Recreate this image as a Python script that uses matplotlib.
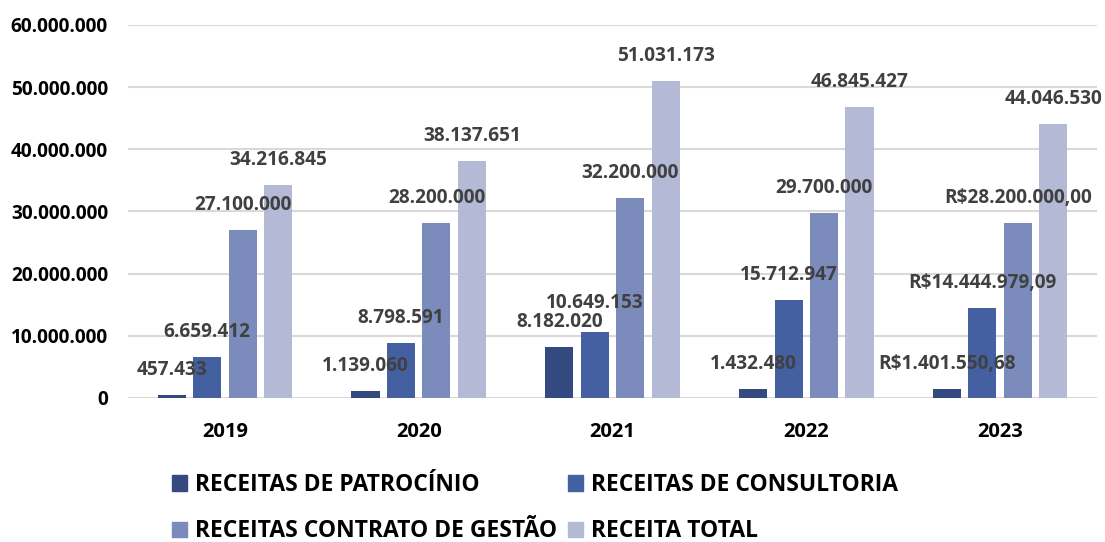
import numpy as np
import matplotlib
matplotlib.use('Agg')
import matplotlib.pyplot as plt
from matplotlib.patches import Patch

years = ['2019', '2020', '2021', '2022', '2023']
series_names = ['RECEITAS DE PATROCÍNIO', 'RECEITAS DE CONSULTORIA',
                'RECEITAS CONTRATO DE GESTÃO', 'RECEITA TOTAL']
patrocinio = [457433, 1139060, 8182020, 1432480, 1401550.68]
consultoria = [6659412, 8798591, 10649153, 15712947, 14444979.09]
contrato = [27100000, 28200000, 32200000, 29700000, 28200000]
total = [34216845, 38137651, 51031173, 46845427, 44046530]

labels = [
    ['457.433', '1.139.060', '8.182.020', '1.432.480', 'R$1.401.550,68'],
    ['6.659.412', '8.798.591', '10.649.153', '15.712.947', 'R$14.444.979,09'],
    ['27.100.000', '28.200.000', '32.200.000', '29.700.000', 'R$28.200.000,00'],
    ['34.216.845', '38.137.651', '51.031.173', '46.845.427', '44.046.530'],
]
colors = ['#34497f', '#4560a0', '#7b8bbb', '#b4bad6']

plt.rcParams['font.family'] = ['Open Sans', 'DejaVu Sans']

fig = plt.figure(figsize=(11.05, 5.42), dpi=100)
ax = fig.add_axes([0.1158, 0.2657, 0.8770, 0.6882])

x = np.arange(len(years))
step = 0.183
width = 0.145
data = [patrocinio, consultoria, contrato, total]
for i, vals in enumerate(data):
    pos = x + (i - 1.5) * step
    ax.bar(pos, vals, width, color=colors[i], zorder=3)
    for j, v in enumerate(vals):
        dy = 29 if (i, j) == (1, 2) else 25  # keep the two 2021 labels apart
        ax.annotate(labels[i][j], xy=(pos[j], v), xytext=(0, dy),
                    textcoords='offset pixels', ha='center', va='center',
                    fontsize=13.7, fontweight='bold', color='#404040', zorder=4)

ax.set_xlim(-0.5, 4.5)
ax.set_ylim(0, 60000000)
yt = np.arange(0, 60000001, 10000000)
ax.set_yticks(yt)
ax.set_yticklabels(['0' if t == 0 else f'{int(t):,}'.replace(',', '.') for t in yt])
ax.set_xticks(x)
ax.set_xticklabels(years)
ax.tick_params(axis='both', length=0, labelcolor='black')
ax.tick_params(axis='x', pad=17, labelsize=14.5)
ax.tick_params(axis='y', pad=14.4, labelsize=13.7)
for lab in ax.get_xticklabels() + ax.get_yticklabels():
    lab.set_fontweight('bold')
ax.yaxis.grid(True, color='#d9d9d9', linewidth=1.5, zorder=0)
for s in ax.spines.values():
    s.set_visible(False)

# legend fills column by column, so reorder to read row by row
order = [0, 2, 1, 3]
handles = [Patch(color=colors[k]) for k in order]
fig.legend(handles, [series_names[k] for k in order], ncol=2, loc='upper left',
           bbox_to_anchor=(0.1557, 0.1273), frameon=False,
           prop={'size': 16.5, 'weight': 'bold'}, handlelength=0.65,
           handleheight=0.65, handletextpad=0.35, columnspacing=0.48,
           labelspacing=0.97, borderaxespad=0, borderpad=0)

fig.savefig('out.png', dpi=100)
